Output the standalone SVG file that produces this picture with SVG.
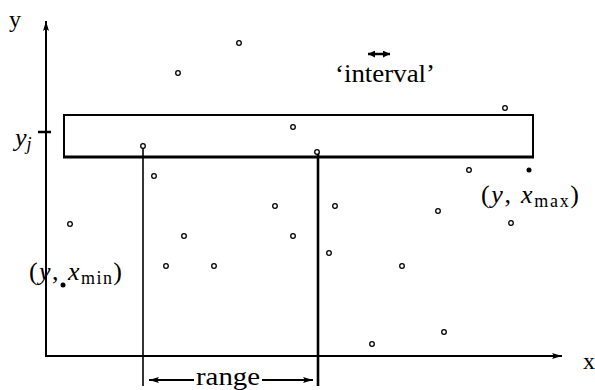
<svg xmlns="http://www.w3.org/2000/svg" width="595" height="390" viewBox="0 0 595 390">
<style>
text{font-family:"Liberation Serif","DejaVu Serif",serif;font-size:26px;fill:#000}
.it{font-style:italic}
.sub{font-size:18px;font-style:normal}
.pt{fill:#fff;stroke:#000;stroke-width:1.3}
.fp{fill:#000}
.ln{stroke:#000;fill:none}
</style>
<defs>
<marker id="ah" markerWidth="10" markerHeight="6" refX="10" refY="3" orient="auto" markerUnits="userSpaceOnUse">
<path d="M0,0 L10,3 L0,6 L2,3 Z" fill="#000"/>
</marker>
<marker id="ahs" markerWidth="7" markerHeight="7" refX="7" refY="3.5" orient="auto" markerUnits="userSpaceOnUse">
<path d="M0,0 L7,3.5 L0,7 Z" fill="#000"/>
</marker>
</defs>
<g id="axes">
<line class="ln" x1="46" y1="357" x2="46" y2="21" stroke-width="2" marker-end="url(#ah)"/>
<line class="ln" x1="45" y1="356" x2="562" y2="356" stroke-width="2" marker-end="url(#ah)"/>
<text x="9" y="27" style="font-size:24px">y</text>
<text x="583" y="369" style="font-size:24px">x</text>
</g>
<g id="interval-box">
<rect class="ln" x="64" y="115" width="469" height="42" stroke-width="2"/>
<line class="ln" x1="63" y1="157" x2="534" y2="157" stroke-width="3"/>
</g>
<g id="yj">
<line class="ln" x1="38" y1="132" x2="51" y2="132" stroke-width="2.5"/>
<text class="it" x="15" y="146">y<tspan class="sub" style="font-style:italic" dy="4">j</tspan></text>
</g>
<g id="connectors">
<line class="ln" x1="143" y1="146" x2="143" y2="386" stroke-width="1.6"/>
<line class="ln" x1="318" y1="152" x2="318" y2="386" stroke-width="2.6"/>
<line class="ln" x1="194" y1="380" x2="149" y2="380" stroke-width="2" marker-end="url(#ah)"/>
<line class="ln" x1="262" y1="380" x2="313" y2="380" stroke-width="2" marker-end="url(#ah)"/>
<line class="ln" x1="378" y1="54" x2="368" y2="54" stroke-width="2.5" marker-end="url(#ahs)"/>
<line class="ln" x1="378" y1="54" x2="390" y2="54" stroke-width="2.5" marker-end="url(#ahs)"/>
</g>
<g id="labels">
<text x="335" y="82" textLength="100" lengthAdjust="spacingAndGlyphs">‘interval’</text>
<text x="196" y="385" textLength="64" lengthAdjust="spacingAndGlyphs">range</text>
<text x="481" y="203" textLength="98" lengthAdjust="spacing">(<tspan class="it">y</tspan>, <tspan class="it">x</tspan><tspan class="sub" dy="4">max</tspan><tspan dy="-4">)</tspan></text>
<text x="29" y="280" textLength="93" lengthAdjust="spacing">(<tspan class="it">y</tspan>, <tspan class="it">x</tspan><tspan class="sub" dy="4">min</tspan><tspan dy="-4">)</tspan></text>
</g>
<g id="points">
<circle class="pt" cx="239" cy="43" r="2.3"/>
<circle class="pt" cx="178" cy="73" r="2.3"/>
<circle class="pt" cx="505" cy="108" r="2.3"/>
<circle class="pt" cx="293" cy="127" r="2.3"/>
<circle class="pt" cx="143" cy="146" r="2.3"/>
<circle class="pt" cx="317" cy="152" r="2.3"/>
<circle class="pt" cx="154" cy="176" r="2.3"/>
<circle class="pt" cx="469" cy="170" r="2.3"/>
<circle class="fp" cx="529" cy="170" r="2.5"/>
<circle class="pt" cx="70" cy="224" r="2.3"/>
<circle class="pt" cx="275" cy="206" r="2.3"/>
<circle class="pt" cx="335" cy="206" r="2.3"/>
<circle class="pt" cx="438" cy="211" r="2.3"/>
<circle class="pt" cx="511" cy="223" r="2.3"/>
<circle class="pt" cx="184" cy="236" r="2.3"/>
<circle class="pt" cx="293" cy="236" r="2.3"/>
<circle class="pt" cx="329" cy="253" r="2.3"/>
<circle class="pt" cx="166" cy="266" r="2.3"/>
<circle class="pt" cx="214" cy="266" r="2.3"/>
<circle class="pt" cx="402" cy="266" r="2.3"/>
<circle class="fp" cx="63" cy="285" r="2.5"/>
<circle class="pt" cx="444" cy="332" r="2.3"/>
<circle class="pt" cx="372" cy="344" r="2.3"/>
</g>
</svg>
